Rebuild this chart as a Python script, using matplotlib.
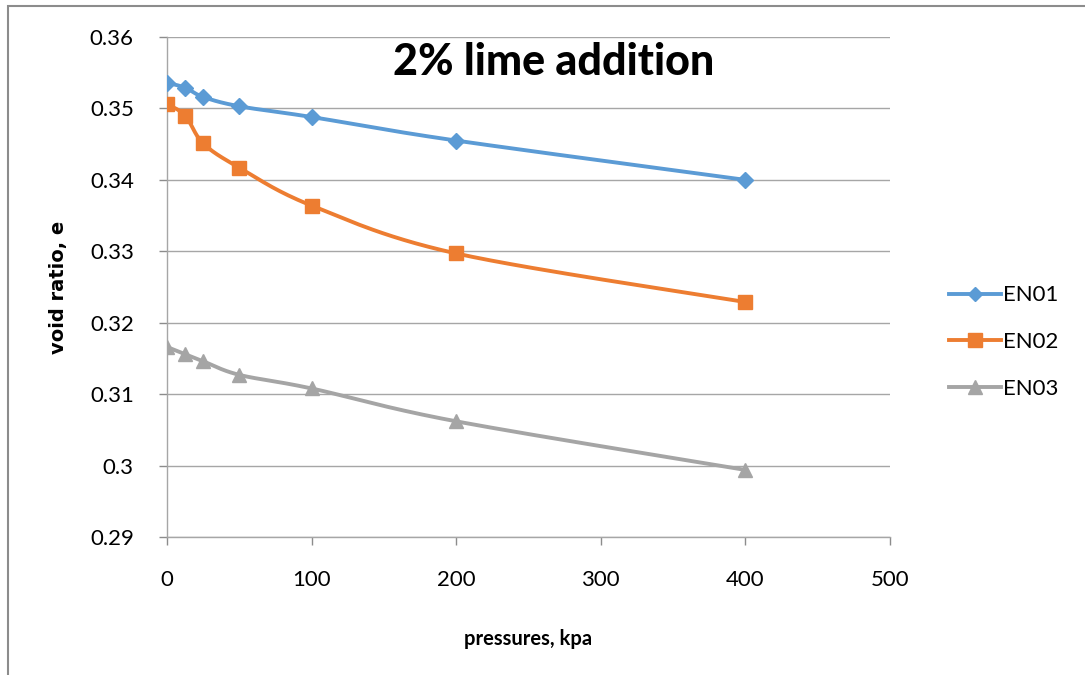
import numpy as np
import matplotlib.pyplot as plt
from matplotlib.patches import Rectangle

# pressures (kPa) and void ratios for the three samples
pressure = [0, 12.5, 25, 50, 100, 200, 400]
en01 = [0.3536, 0.3529, 0.3516, 0.3503, 0.3488, 0.3455, 0.3400]
en02 = [0.3506, 0.3490, 0.3451, 0.3417, 0.3364, 0.3297, 0.3229]
en03 = [0.3166, 0.3156, 0.3146, 0.3127, 0.3108, 0.3062, 0.2994]

xticks = [0, 100, 200, 300, 400, 500]
yticks = [0.29, 0.30, 0.31, 0.32, 0.33, 0.34, 0.35, 0.36]
ytick_labels = ["0.29", "0.3", "0.31", "0.32", "0.33", "0.34", "0.35", "0.36"]

plt.rcParams["font.family"] = ["Lato", "DejaVu Sans"]

fig = plt.figure(figsize=(10.85, 6.75), dpi=100)
ax = fig.add_axes([0.154, 0.2044, 0.666, 0.7408])

# light frame around the chart area
fig.patches.append(Rectangle((8 / 1085, -0.1), 1.2, 1.1 - 6 / 675, transform=fig.transFigure,
                             fill=False, edgecolor="#8c8c8c", linewidth=1.5))


def smooth(xs, ys, n=30):
    # Catmull-Rom style smoothing done in screen-ish units so the curve looks even
    sx = np.asarray(xs, float) / 500.0 * 723
    sy = (np.asarray(ys, float) - 0.29) / 0.07 * 500
    pts = np.column_stack([sx, sy])
    out = []
    for i in range(len(pts) - 1):
        p0 = pts[i - 1] if i > 0 else pts[i]
        p1, p2 = pts[i], pts[i + 1]
        p3 = pts[i + 2] if i + 2 < len(pts) else pts[i + 1]
        c1 = p1 + (p2 - p0) / 6.0
        c2 = p2 - (p3 - p1) / 6.0
        t = np.linspace(0, 1, n)[:, None]
        seg = (1 - t) ** 3 * p1 + 3 * (1 - t) ** 2 * t * c1 + 3 * (1 - t) * t ** 2 * c2 + t ** 3 * p2
        out.append(seg if i == 0 else seg[1:])
    out = np.vstack(out)
    return out[:, 0] / 723 * 500.0, out[:, 1] / 500 * 0.07 + 0.29


series = [
    (en01, "EN01", "#5B9BD5", "D", 8),
    (en02, "EN02", "#ED7D31", "s", 10.5),
    (en03, "EN03", "#A5A5A5", "^", 10.5),
]
for vals, name, col, mk, ms in series:
    sx, sy = smooth(pressure, vals)
    ax.plot(sx, sy, color=col, lw=2.8, zorder=3)
    ax.plot(pressure, vals, ls="none", marker=mk, ms=ms, color=col, zorder=4)
    ax.plot([], [], color=col, lw=2.8, marker=mk, ms=ms * 0.9, label=name)

ax.set_xlim(0, 500)
ax.set_ylim(0.29, 0.36)
ax.set_xticks(xticks)
ax.set_yticks(yticks)
ax.set_yticklabels(ytick_labels)
ax.tick_params(axis="both", labelsize=16, color="#8c8c8c", length=6, width=1)
ax.tick_params(axis="x", pad=18)
ax.tick_params(axis="y", pad=18)
ax.grid(axis="y", color="#a6a6a6", lw=1)
ax.set_axisbelow(True)
for s in ["top", "right"]:
    ax.spines[s].set_visible(False)
for s in ["left", "bottom"]:
    ax.spines[s].set_color("#a6a6a6")
    ax.spines[s].set_linewidth(1)

ax.set_xlabel("pressures, kpa", fontsize=14.5, fontweight="bold", labelpad=28)
ax.set_ylabel("void ratio, e", fontsize=14, fontweight="bold", family="DejaVu Sans", labelpad=16)
ax.text(0.535, 0.99, "2% lime addition", transform=ax.transAxes, ha="center", va="top",
        fontsize=31, fontweight="black")

ax.legend(loc="center left", bbox_to_anchor=(1.055, 0.39), frameon=False, fontsize=16,
          handlelength=2.3, labelspacing=1.2, handletextpad=0.1)

fig.savefig("out.png", dpi=100)
